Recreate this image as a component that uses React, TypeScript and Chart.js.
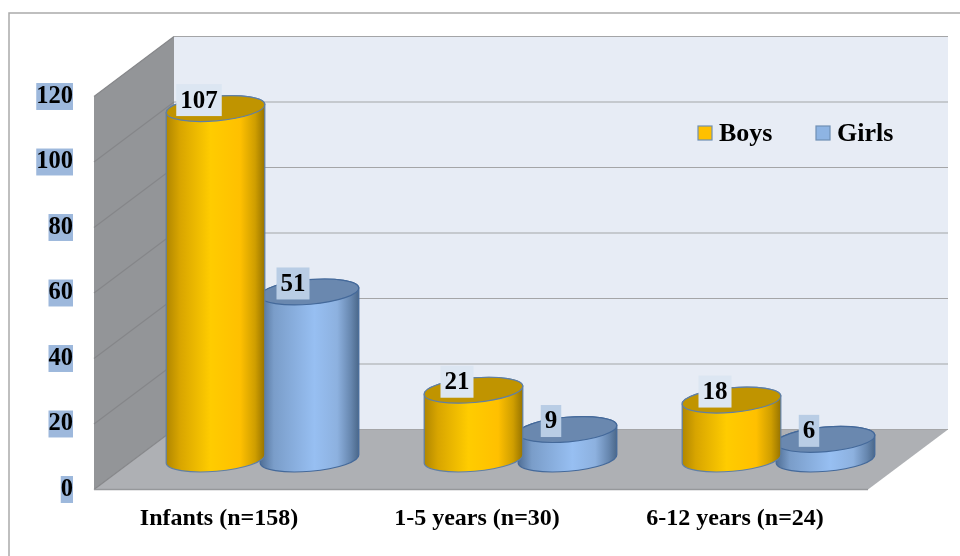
import React, { useEffect, useRef } from "react";
import { Chart, registerables } from "chart.js";

Chart.register(...registerables);

const categories = ["Infants (n=158)", "1-5 years (n=30)", "6-12 years (n=24)"];
const boys = [107, 21, 18];
const girls = [51, 9, 6];
const yTicks = [0, 20, 40, 60, 80, 100, 120];
const seriesNames = ["Boys", "Girls"];

const FONT = '"Liberation Serif", "Times New Roman", serif';
const DEPTH_X = 80;
const DEPTH_Y = -60;
const BAR_DX = 39.5;
const BAR_DY = -30.5;
const RY = 12.3;
const TILT = -0.085;

const looks = [
  {
    stops: [[0, "#B08600"], [0.14, "#D8A500"], [0.45, "#FFCC00"], [0.75, "#FFC000"], [0.9, "#CF9E00"], [1, "#967300"]],
    top: "#C09400",
    line: "#5F7FA6",
    swatch: "#FFC000",
    boxFill: "#DCE6F2",
  },
  {
    stops: [[0, "#4F6E95"], [0.14, "#7A9DC9"], [0.55, "#97BFF2"], [0.78, "#8DB1DF"], [0.92, "#6686AE"], [1, "#4A6789"]],
    top: "#6A88AF",
    line: "#44699A",
    swatch: "#8EB4E3",
    boxFill: "#B9CDE5",
  },
];

const scenePlugin = {
  id: "scene3d",
  beforeDatasetsDraw(chart: any) {
    const { ctx, scales } = chart;
    const y = scales.y;
    const left = chart.chartArea.left;
    const right = chart.chartArea.right;
    const y0 = y.getPixelForValue(0);
    const yMax = y.getPixelForValue(120);
    ctx.save();
    // outer frame
    ctx.strokeStyle = "#ABABAB";
    ctx.lineWidth = 1.5;
    ctx.beginPath();
    ctx.moveTo(9, 556);
    ctx.lineTo(9, 13);
    ctx.lineTo(960, 13);
    ctx.stroke();
    // back wall
    ctx.fillStyle = "#E7ECF5";
    ctx.fillRect(left + DEPTH_X, yMax + DEPTH_Y, right - left, y0 - yMax);
    // side wall
    ctx.fillStyle = "#939598";
    ctx.beginPath();
    ctx.moveTo(left, yMax);
    ctx.lineTo(left + DEPTH_X, yMax + DEPTH_Y);
    ctx.lineTo(left + DEPTH_X, y0 + DEPTH_Y);
    ctx.lineTo(left, y0);
    ctx.closePath();
    ctx.fill();
    // floor
    ctx.fillStyle = "#AEB0B4";
    ctx.beginPath();
    ctx.moveTo(left, y0);
    ctx.lineTo(left + DEPTH_X, y0 + DEPTH_Y);
    ctx.lineTo(right + DEPTH_X, y0 + DEPTH_Y);
    ctx.lineTo(right, y0);
    ctx.closePath();
    ctx.fill();
    // grid lines
    ctx.lineWidth = 1.2;
    for (const t of y.ticks) {
      const py = y.getPixelForValue(t.value);
      ctx.strokeStyle = "#858689";
      ctx.beginPath();
      ctx.moveTo(left, py);
      ctx.lineTo(left + DEPTH_X, py + DEPTH_Y);
      ctx.stroke();
      ctx.strokeStyle = "#A4A5A7";
      ctx.beginPath();
      ctx.moveTo(left + DEPTH_X, py + DEPTH_Y);
      ctx.lineTo(right + DEPTH_X, py + DEPTH_Y);
      ctx.stroke();
    }
    // front floor edge
    ctx.strokeStyle = "#96989B";
    ctx.lineWidth = 1.5;
    ctx.beginPath();
    ctx.moveTo(left, y0);
    ctx.lineTo(right, y0);
    ctx.stroke();
    ctx.restore();
  },
  beforeDatasetDraw(chart: any, args: any) {
    const { ctx } = chart;
    const look = looks[args.index];
    for (const el of args.meta.data) {
      const cx = el.x + BAR_DX;
      const rx = el.width / 2;
      const ty = el.y + BAR_DY;
      const by = el.base + BAR_DY;
      const grad = ctx.createLinearGradient(cx - rx, 0, cx + rx, 0);
      for (const [o, c] of look.stops) grad.addColorStop(o, c);
      ctx.save();
      ctx.lineWidth = 1.2;
      ctx.strokeStyle = look.line;
      ctx.fillStyle = grad;
      ctx.beginPath();
      ctx.ellipse(cx, by, rx, RY, TILT, 0, Math.PI);
      ctx.ellipse(cx, ty, rx, RY, TILT, Math.PI, Math.PI * 2);
      ctx.closePath();
      ctx.fill();
      ctx.stroke();
      ctx.fillStyle = look.top;
      ctx.beginPath();
      ctx.ellipse(cx, ty, rx, RY, TILT, 0, Math.PI * 2);
      ctx.fill();
      ctx.stroke();
      ctx.restore();
    }
    return false;
  },
  afterDatasetsDraw(chart: any) {
    const { ctx } = chart;
    ctx.save();
    ctx.font = `bold 25px ${FONT}`;
    ctx.textAlign = "center";
    ctx.textBaseline = "middle";
    chart.data.datasets.forEach((ds: any, di: number) => {
      const meta = chart.getDatasetMeta(di);
      meta.data.forEach((el: any, i: number) => {
        const text = String(ds.data[i]);
        const cx = el.x + BAR_DX - 16.5;
        const cy = el.y + BAR_DY - 8.5;
        const w = ctx.measureText(text).width + 8;
        ctx.fillStyle = looks[di].boxFill;
        ctx.fillRect(cx - w / 2, cy - 16, w, 32);
        ctx.fillStyle = "#000";
        ctx.fillText(text, cx, cy + 1);
      });
    });
    // legend
    const swatchX = [698, 816];
    const legendY = 133;
    ctx.textAlign = "left";
    ctx.font = `bold 26px ${FONT}`;
    chart.data.datasets.forEach((ds: any, di: number) => {
      ctx.fillStyle = looks[di].swatch;
      ctx.strokeStyle = "#6F8FB5";
      ctx.lineWidth = 1.2;
      ctx.fillRect(swatchX[di], legendY - 7, 14, 14);
      ctx.strokeRect(swatchX[di], legendY - 7, 14, 14);
      ctx.fillStyle = "#000";
      ctx.fillText(ds.label, swatchX[di] + 21, legendY + 1);
    });
    ctx.restore();
  },
};

export default function App() {
  const ref = useRef<HTMLCanvasElement | null>(null);
  useEffect(() => {
    const chart = new Chart(ref.current as HTMLCanvasElement, {
      type: "bar",
      data: {
        labels: categories,
        datasets: [
          { label: seriesNames[0], data: boys, backgroundColor: looks[0].swatch },
          { label: seriesNames[1], data: girls, backgroundColor: looks[1].swatch },
        ],
      },
      options: {
        responsive: false,
        animation: false,
        layout: { padding: { top: 96.5, right: 92, left: 0, bottom: 0 } },
        datasets: { bar: { categoryPercentage: 0.7287, barPercentage: 1.053 } },
        plugins: { legend: { display: false }, tooltip: { enabled: false } },
        scales: {
          x: {
            grid: { display: false, drawTicks: false },
            border: { display: false },
            afterFit: (s: any) => { s.height = 66.5; },
            ticks: {
              color: "#000",
              padding: 15,
              labelOffset: -4,
              maxRotation: 0,
              font: { family: FONT, size: 24, weight: "bold" },
            },
          },
          y: {
            min: 0,
            max: 120,
            grid: { display: false, drawTicks: false },
            border: { display: false },
            afterFit: (s: any) => { s.width = 94; },
            afterBuildTicks: (s: any) => { s.ticks = yTicks.map((value) => ({ value })); },
            ticks: {
              color: "#000",
              padding: 21,
              showLabelBackdrop: true,
              backdropColor: "#9DB8DC",
              backdropPadding: 0,
              font: { family: FONT, size: 24.5, weight: "bold", lineHeight: 1.1 },
            },
          },
        },
      } as any,
      plugins: [scenePlugin as any],
    });
    return () => chart.destroy();
  }, []);
  return (
    <div style={{ position: "fixed", left: 0, top: 0, width: 960, height: 556, background: "#fff" }}>
      <canvas ref={ref} width={960} height={556} style={{ display: "block" }} />
    </div>
  );
}
